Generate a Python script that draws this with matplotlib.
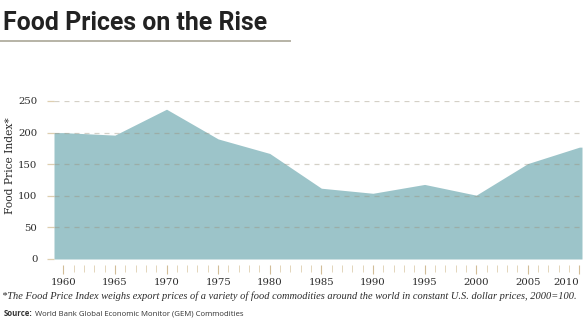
import matplotlib
matplotlib.use("Agg")
import matplotlib.pyplot as plt
from matplotlib.ticker import MultipleLocator, FixedLocator
from matplotlib.lines import Line2D

# Food Price Index (constant U.S. dollars, 2000=100)
years = [1960, 1965, 1970, 1975, 1980, 1985, 1990, 1995, 2000, 2005, 2010]
index_values = [200, 196, 237, 190, 167, 112, 104, 118, 101, 151, 177]
y_ticks = [0, 50, 100, 150, 200, 250]
x_labels = ["1960", "1965", "1970", "1975", "1980", "1985", "1990", "1995", "2000", "2005", "2010"]

title = "Food Prices on the Rise"
y_title = "Food Price Index*"
footnote = ("*The Food Price Index weighs export prices of a variety of food commodities "
            "around the world in constant U.S. dollar prices, 2000=100.")
source_head = "Source:"
source_body = "World Bank Global Economic Monitor (GEM) Commodities"

fill_color = "#9cc4c9"
grid_color = "#9a8f78"
tick_color = "#decfb0"
text_color = "#2b2b2b"

W, H = 585, 327
fig = plt.figure(figsize=(W / 100, H / 100), dpi=100)
ax = fig.add_axes([54 / W, 1 - 259 / H, 528 / W, 158 / H])

x_lo, x_hi = 1959.1, 2010.25
ax.set_xlim(x_lo, x_hi)
ax.set_ylim(0, 250)

# area runs flush to both edges of the plot
xs = [x_lo] + years + [x_hi]
ys = [index_values[0]] + index_values + [index_values[-1]]
ax.fill_between(xs, 0, ys, color=fill_color, lw=0, zorder=1)

# dashed reference lines on top of the area
for v in y_ticks[1:]:
    ax.axhline(v, color=grid_color, alpha=0.42, lw=0.9, ls=(0, (4, 4)), zorder=2)

for s in ax.spines.values():
    s.set_visible(False)
ax.spines["bottom"].set_position(("outward", 4))

ax.xaxis.set_major_locator(FixedLocator(years))
ax.set_xticklabels(x_labels)
ax.xaxis.set_minor_locator(MultipleLocator(1))
ax.tick_params(axis="x", which="major", length=6.5, width=0.8, color="#d2bd98",
               pad=3, labelsize=7.3, labelcolor=text_color)
ax.tick_params(axis="x", which="minor", length=5, width=0.6, color=tick_color)
xlabs = ax.get_xticklabels()
for lab in xlabs:
    lab.set_fontfamily("DejaVu Serif")
xlabs[-1].set_horizontalalignment("right")

ax.set_yticks(y_ticks)
ax.tick_params(axis="y", length=5, width=0.9, color=tick_color, pad=7,
               labelsize=7.3, labelcolor=text_color)
for lab in ax.get_yticklabels():
    lab.set_fontfamily("DejaVu Serif")

fig.canvas.draw()
renderer = fig.canvas.get_renderer()


def fit_text(x, y, s, target_px, size0, **kw):
    t = fig.text(x, y, s, fontsize=size0, **kw)
    ext = t.get_window_extent(renderer)
    span = ext.height if kw.get("rotation") == 90 else ext.width
    t.set_fontsize(size0 * target_px / span)
    return t


fit_text(10 / W, 1 - 166 / H, y_title, 97, 8, family="DejaVu Serif", rotation=90,
         color=text_color, va="center", ha="center")

fit_text(3 / W, 1 - 23 / H, title, 265, 16, family="Roboto", weight="bold",
         color="#222222", va="center", ha="left")
fig.add_artist(Line2D([0, 290 / W], [1 - 41 / H] * 2, color="#b7b3a6", lw=1.4))

fit_text(2 / W, 1 - 296 / H, footnote, 575, 8, family="Liberation Serif", style="italic",
         color=text_color, va="center", ha="left")

# source line: bold lead-in followed by regular text, fitted to one width
src_y = 1 - 314 / H
src = fig.text(4 / W, src_y, source_head, family="Open Sans", weight="bold",
               fontsize=6.5, color="#333333", va="center", ha="left")
bb = src.get_window_extent(renderer)
rest = fig.text((bb.x1 + 2) / W, src_y, source_body, family="Open Sans",
                fontsize=6.5, color="#333333", va="center", ha="left")
rb = rest.get_window_extent(renderer)
size = 6.5 * (240 - 4) / (rb.x1 - bb.x0)
src.set_fontsize(size)
rest.set_fontsize(size)
bb = src.get_window_extent(renderer)
rest.set_x((bb.x1 + 2) / W)

fig.savefig("out.png", dpi=100)
